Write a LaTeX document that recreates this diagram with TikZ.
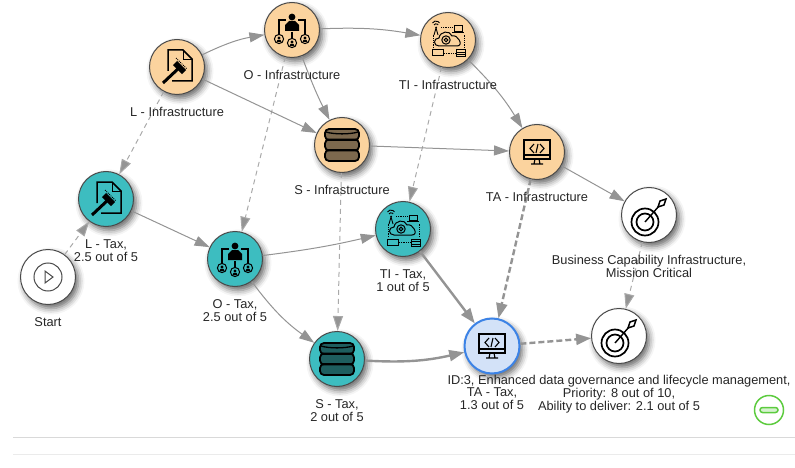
\documentclass[tikz,border=0pt]{standalone}
\usepackage{fontspec}
\setmainfont{Liberation Sans}
\usetikzlibrary{positioning,arrows.meta,shadows.blur}
\definecolor{infra}{HTML}{FBD39E}
\definecolor{tax}{HTML}{3DBDC0}
\definecolor{picked}{HTML}{D3E2F8}
\definecolor{pickedline}{HTML}{3C83E6}
\definecolor{rim}{HTML}{4A4A4A}
\definecolor{wire}{HTML}{949494}
\definecolor{okgreen}{HTML}{5CCB3E}
\tikzset{
  stage/.style={circle, draw=rim, line width=1pt, minimum size=55pt, inner sep=0pt,
    blur shadow={shadow xshift=3pt, shadow yshift=-4pt, shadow blur radius=6pt, shadow opacity=60}},
  infranode/.style={stage, fill=infra},
  taxnode/.style={stage, fill=tax},
  plainnode/.style={stage, fill=white},
  pickednode/.style={stage, fill=picked, draw=pickedline, line width=2pt},
  caption/.style={inner sep=0pt, align=center, font=\fontsize{12.8}{13}\selectfont, text=black!85},
  link/.style={draw=wire, line width=1pt, -{Triangle[length=15pt,width=10pt,fill=wire]}},
  softlink/.style={link, draw=wire!80, dash pattern=on 5pt off 4pt},
  heavylink/.style={link, line width=2.4pt, -{Triangle[length=15pt,width=11pt,fill=wire]}},
  heavydash/.style={heavylink, dash pattern=on 6pt off 3pt},
  gavel/.pic={
    \draw[line width=1.5pt] (-9,4) -- (-9,-17) -- (6,-17) -- (15,-8) -- (15,14) -- (-5,14);
    \draw[line width=.9pt] (6,-17) -- (6,-8) -- (15,-8);
    \draw[line width=3pt] (-14,16) -- (3,0);
    \draw[line width=6pt] (-2,-4) -- (7,5);
    \draw[line width=1pt, densely dotted] (-1,-9) -- (10,2);
  },
  orgchart/.pic={
    \fill (0,-13) circle (3.4);
    \fill (-7,1) -- (-7,-5) -- (-3,-9) -- (3,-9) -- (7,-5) -- (7,1) -- cycle;
    \draw[line width=1.1pt] (-13,4) -- (-13,-10) -- (-6,-10) (13,4) -- (13,-10) -- (6,-10) (0,2) -- (0,8);
    \foreach \px/\py in {-13/9,0/13,13/9}{
      \draw[line width=1pt] (\px,\py) circle (4.6);
      \fill (\px,\py-1) circle (1.6);
      \fill (\px-2.6,\py+3) -- (\px-1.5,\py+.8) -- (\px+1.5,\py+.8) -- (\px+2.6,\py+3) -- cycle;
    }
  },
  database/.pic={
    \foreach \py in {-10.5,0,10.5}{
      \draw[line width=1.8pt, fill=black, fill opacity=.5, rounded corners=4pt] (-17,\py-5.5) rectangle (17,\py+5.5);
    }
    \draw[line width=1.3pt] (-16,-13) .. controls (-8,-10.5) and (8,-10.5) .. (16,-13);
  },
  cloudnet/.pic={
    \draw[line width=1pt] (-9,6) .. controls (-15,6) and (-15,-2) .. (-9,-2)
      .. controls (-8,-9) and (2,-10) .. (4,-4) .. controls (10,-6) and (16,6) .. (9,6) -- cycle;
    \draw[line width=1pt] (-2,0) circle (4.2) (-2,0) circle (1.8);
    \draw[line width=.9pt] (-12,-12) -- (-14,-5) (-12,-12) -- (-10,-5) (-14,-15) arc (210:330:2.4) (-15.5,-17) arc (210:330:4);
    \fill (-12,-12.5) circle (1);
    \draw[line width=1pt] (6,-14) rectangle (14,-8.5);
    \draw[line width=1.4pt] (4,-7.5) -- (16,-7.5);
    \draw[line width=1pt] (-16,10) rectangle (-5,16);
    \draw[line width=1pt] (8,10) rectangle (17,17) (8,12.5) -- (17,12.5) (8,15) -- (17,15);
    \draw[line width=.8pt, densely dotted] (-4,13) -- (7,13) (-15,8) -- (-15,-6) (16,8) -- (16,-6) (-7,-13) -- (5,-13);
  },
  monitor/.pic={
    \draw[line width=1.1pt] (-13,-12) rectangle (13,7) (-13,3) -- (13,3);
    \draw[line width=1.1pt] (-2,7) -- (-3,12) (2,7) -- (3,12) (-6,12) -- (6,12);
    \draw[line width=1.1pt] (-3,-8) -- (-7,-3.5) -- (-3,1) (3,-8) -- (7,-3.5) -- (3,1) (1,-8) -- (-1,1);
  },
  dartboard/.pic={
    \draw[line width=1.7pt] (-4,7) circle (13.5) (-4,7) circle (8.5);
    \draw[line width=1.4pt] (-4,7) -- (10,-9);
    \draw[line width=1.5pt] (9,-8) -- (11,-14) -- (17,-16) -- (15,-10) -- cycle;
  },
  playmark/.pic={
    \draw[rim, line width=1pt] (0,0) circle (14);
    \draw[rim, line width=1pt] (-3,-6) -- (5,0) -- (-3,6) -- cycle;
  }
}
\begin{document}
\begin{tikzpicture}[x=1pt, y=-1pt]
\useasboundingbox (0,0) rectangle (795,468);
\node[plainnode] (start) at (48,277) {};
\node[infranode] (lInfra) at (177,67) {};
\node[infranode] (oInfra) at (292,30) {};
\node[infranode] (sInfra) at (342,145) {};
\node[infranode] (tiInfra) at (448,40) {};
\node[infranode] (taInfra) at (537,152) {};
\node[taxnode] (lTax) at (106,199) {};
\node[taxnode] (oTax) at (235,259) {};
\node[taxnode] (sTax) at (337,359) {};
\node[taxnode] (tiTax) at (403,229) {};
\node[pickednode] (taTax) at (492,346) {};
\node[plainnode] (capability) at (649,215) {};
\node[plainnode] (goal) at (619,336) {};

\draw[softlink] (start) -- (lTax);
\draw[softlink] (lInfra) -- (lTax);
\draw[softlink] (oInfra) -- (oTax);
\draw[softlink] (sInfra) -- (sTax);
\draw[softlink] (tiInfra) -- (tiTax);
\draw[softlink] (capability) -- (goal);
\draw[link] (lInfra) to[bend left=8] (oInfra);
\draw[link] (lInfra) -- (sInfra);
\draw[link] (oInfra) to[bend right=3] (sInfra);
\draw[link] (oInfra) to[bend left=6] (tiInfra);
\draw[link] (tiInfra) to[bend left=7] (taInfra);
\draw[link] (sInfra) -- (taInfra);
\draw[link] (taInfra) -- (capability);
\draw[link] (lTax) -- (oTax);
\draw[link] (oTax) to[bend right=3] (tiTax);
\draw[link] (oTax) to[bend right=9] (sTax);
\draw[heavylink] (tiTax) -- (taTax);
\draw[heavylink] (sTax) to[bend right=8] (taTax);
\draw[heavydash] (taInfra) -- (taTax);
\draw[heavydash] (taTax) -- (goal);

\pic at (start) {playmark};
\pic at (lInfra) {gavel};
\pic at (oInfra) {orgchart};
\pic at (sInfra) {database};
\pic at (tiInfra) {cloudnet};
\pic at (taInfra) {monitor};
\pic at (lTax) {gavel};
\pic at (oTax) {orgchart};
\pic at (sTax) {database};
\pic at (tiTax) {cloudnet};
\pic at (taTax) {monitor};
\pic at (capability) {dartboard};
\pic at (goal) {dartboard};

\node[caption, below=12.5pt of start] (startText) {Start};
\node[caption, below=12.5pt of lInfra] (lInfraText) {L - Infrastructure};
\node[caption, below=12.5pt of oInfra] (oInfraText) {O - Infrastructure};
\node[caption, below=12.5pt of sInfra] (sInfraText) {S - Infrastructure};
\node[caption, below=12.5pt of tiInfra] (tiInfraText) {TI - Infrastructure};
\node[caption, below=12.5pt of taInfra] (taInfraText) {TA - Infrastructure};
\node[caption, below=12.5pt of lTax] (lTaxText) {L - Tax,\\2.5 out of 5};
\node[caption, below=12.5pt of oTax] (oTaxText) {O - Tax,\\2.5 out of 5};
\node[caption, below=12.5pt of sTax] (sTaxText) {S - Tax,\\2 out of 5};
\node[caption, below=12.5pt of tiTax] (tiTaxText) {TI - Tax,\\1 out of 5};
\node[caption, below=12.5pt of taTax] (taTaxText) {TA - Tax,\\1.3 out of 5};
\node[caption, below=12.5pt of capability] (capabilityText) {Business Capability Infrastructure,\\Mission Critical};
\node[caption, below=11.5pt of goal] (goalText) {ID:3, Enhanced data governance and lifecycle management,\\Priority: 8 out of 10,\\Ability to deliver: 2.1 out of 5};

\node[circle, draw=okgreen, line width=1.5pt, minimum size=29pt, inner sep=0pt] (collapse) at (769,410) {};
\node[draw=okgreen, fill=okgreen!25, line width=1.5pt, rounded corners=2.5pt, minimum width=18pt, minimum height=5pt, inner sep=0pt] (collapseBar) at (collapse) {};

\draw[black!15, line width=1pt] (13,437) -- (795,437);
\draw[black!8, line width=1pt] (13,454) -- (795,454);
\end{tikzpicture}
\end{document}
